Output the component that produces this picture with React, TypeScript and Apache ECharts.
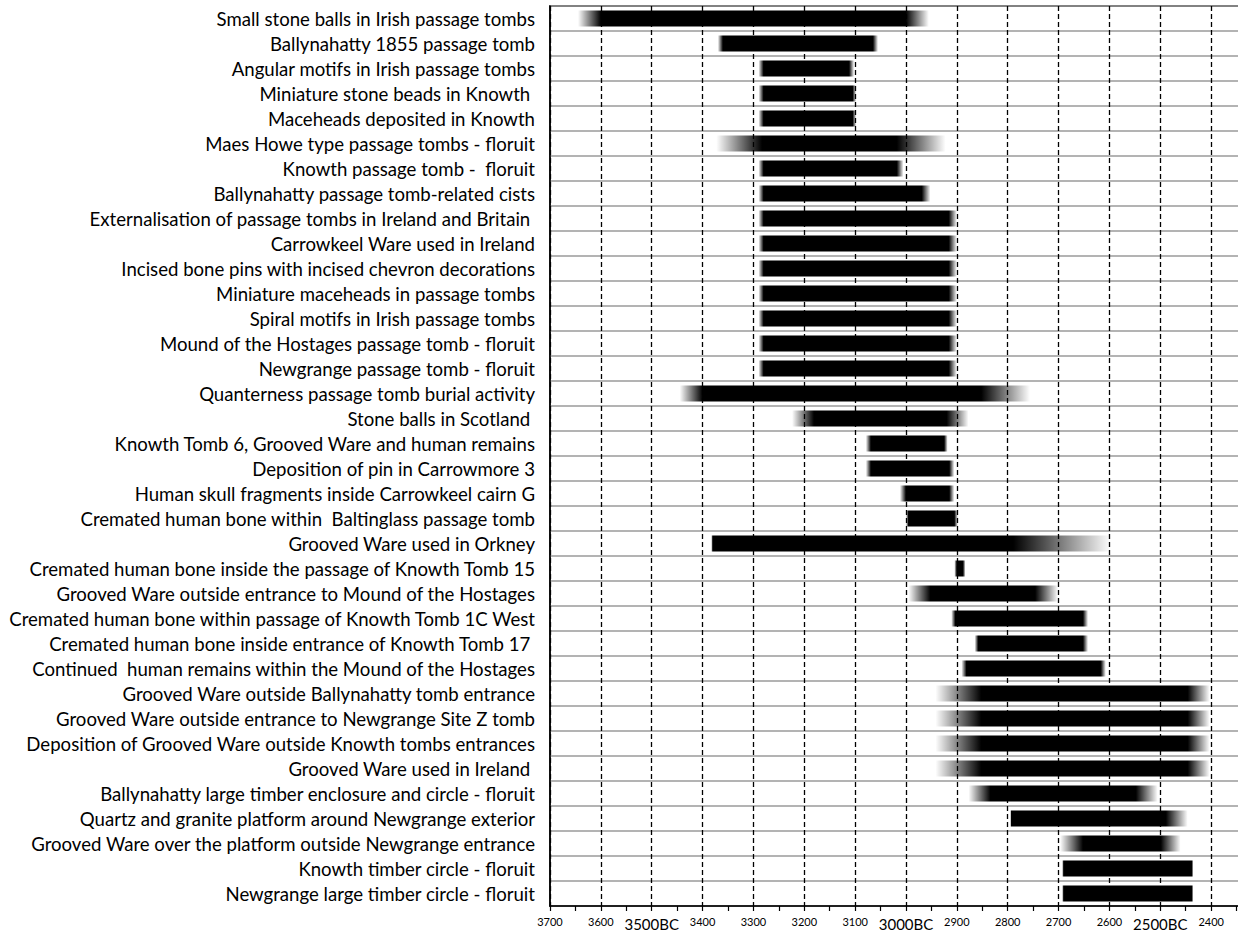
import React, { useEffect, useRef } from "react";
import * as echarts from "echarts";

const categories = [
  "Small stone balls in Irish passage tombs",
  "Ballynahatty 1855 passage tomb",
  "Angular motifs in Irish passage tombs",
  "Miniature stone beads in Knowth ",
  "Maceheads deposited in Knowth",
  "Maes Howe type passage tombs - floruit",
  "Knowth passage tomb -  floruit",
  "Ballynahatty passage tomb-related cists",
  "Externalisation of passage tombs in Ireland and Britain ",
  "Carrowkeel Ware used in Ireland",
  "Incised bone pins with incised chevron decorations",
  "Miniature maceheads in passage tombs",
  "Spiral motifs in Irish passage tombs",
  "Mound of the Hostages passage tomb - floruit",
  "Newgrange passage tomb - floruit",
  "Quanterness passage tomb burial activity",
  "Stone balls in Scotland ",
  "Knowth Tomb 6, Grooved Ware and human remains",
  "Deposition of pin in Carrowmore 3",
  "Human skull fragments inside Carrowkeel cairn G",
  "Cremated human bone within  Baltinglass passage tomb",
  "Grooved Ware used in Orkney",
  "Cremated human bone inside the passage of Knowth Tomb 15",
  "Grooved Ware outside entrance to Mound of the Hostages",
  "Cremated human bone within passage of Knowth Tomb 1C West",
  "Cremated human bone inside entrance of Knowth Tomb 17 ",
  "Continued  human remains within the Mound of the Hostages",
  "Grooved Ware outside Ballynahatty tomb entrance",
  "Grooved Ware outside entrance to Newgrange Site Z tomb",
  "Deposition of Grooved Ware outside Knowth tombs entrances",
  "Grooved Ware used in Ireland ",
  "Ballynahatty large timber enclosure and circle - floruit",
  "Quartz and granite platform around Newgrange exterior",
  "Grooved Ware over the platform outside Newgrange entrance",
  "Knowth timber circle - floruit",
  "Newgrange large timber circle - floruit",
];

// years BC: where the fuzzy start begins, where the solid part starts/ends, where the fuzzy end fades out
const fadeFrom = [3645, 3370, 3290, 3290, 3290, 3373, 3290, 3290, 3290, 3290, 3290, 3290, 3290, 3290, 3290, 3445, 3224, 3079, 3079, 3012, 3000, 3383, 2905, 2995, 2911, 2865, 2891, 2942, 2942, 2942, 2942, 2877, 2795, 2697, 2693, 2693];
const solidFrom = [3600, 3360, 3280, 3280, 3280, 3283, 3280, 3280, 3280, 3280, 3280, 3280, 3280, 3280, 3280, 3400, 3181, 3069, 3069, 3000, 2995, 3380, 2900, 2952, 2903, 2858, 2881, 2852, 2852, 2852, 2852, 2834, 2793, 2652, 2690, 2690];
const solidTo = [3000, 3065, 3112, 3105, 3105, 3018, 3018, 2969, 2916, 2916, 2916, 2916, 2916, 2916, 2916, 2852, 2920, 2925, 2915, 2915, 2905, 2789, 2888, 2746, 2652, 2652, 2617, 2446, 2446, 2446, 2446, 2548, 2489, 2499, 2438, 2438];
const fadeTo = [2955, 3055, 3102, 3098, 3098, 2922, 3005, 2952, 2900, 2900, 2900, 2900, 2900, 2900, 2900, 2756, 2877, 2918, 2905, 2905, 2898, 2597, 2883, 2701, 2642, 2642, 2607, 2403, 2403, 2403, 2403, 2505, 2446, 2460, 2435, 2435];

const bcLabelYears = [3500, 3000, 2500];
const axisMin = 2300;
const axisMax = 3700;
const tickStep = 100;

const FONT = "Lato";
const CHART_W = 1265;
const CHART_H = 937;

export default function App() {
  const ref = useRef<HTMLDivElement>(null);
  useEffect(() => {
    document.documentElement.style.overflow = "hidden";
    const chart = echarts.init(ref.current!, null, { renderer: "svg", width: CHART_W, height: CHART_H });
    const data = categories.map((_, i) => [i, fadeFrom[i], solidFrom[i], solidTo[i], fadeTo[i]]);
    chart.setOption({
      animation: false,
      backgroundColor: "#fff",
      grid: {
        left: 550,
        right: 0,
        top: 6,
        bottom: 31,
        show: true,
        borderColor: "#000",
        borderWidth: 1.5,
      },
      xAxis: {
        type: "value",
        inverse: true,
        min: axisMin,
        max: axisMax,
        interval: tickStep,
        axisLine: { show: true, lineStyle: { color: "#000", width: 1.5 } },
        axisTick: { show: true, length: 5, lineStyle: { color: "#000", width: 1.2 } },
        minorTick: { show: true, splitNumber: 2, length: 5, lineStyle: { color: "#000", width: 1.2 } },
        splitLine: { show: true, lineStyle: { type: [5, 3], color: "#000", width: 1.3 } },
        axisLabel: {
          margin: 10,
          color: "#000",
          fontFamily: FONT,
          fontSize: 11,
          formatter: (v: number) =>
            v === axisMin ? "" : bcLabelYears.includes(v) ? `{big|${v}BC}` : `${v}`,
          rich: { big: { fontSize: 15, fontFamily: FONT, color: "#000" } },
        },
      },
      yAxis: {
        type: "category",
        inverse: true,
        data: categories,
        axisLine: { show: true, lineStyle: { color: "#000", width: 1.5 } },
        axisTick: { show: false },
        splitLine: { show: true, interval: 0, lineStyle: { color: "#9a9a9a", width: 1.5 } },
        axisLabel: { interval: 0, margin: 15, color: "#000", fontFamily: FONT, fontSize: 18.6 },
      },
      series: [
        {
          type: "custom",
          clip: true,
          encode: { x: [1, 2, 3, 4], y: 0 },
          data,
          renderItem: (params: any, api: any) => {
            const row = api.value(0);
            const a = api.coord([api.value(1), row]);
            const b = api.coord([api.value(2), row]);
            const c = api.coord([api.value(3), row]);
            const d = api.coord([api.value(4), row]);
            const h = api.size([0, 1])[1] * 0.64;
            const w = Math.max(d[0] - a[0], 0.1);
            const o1 = Math.min(Math.max((b[0] - a[0]) / w, 0), 1);
            const o2 = Math.min(Math.max((c[0] - a[0]) / w, o1), 1);
            const fill = new echarts.graphic.LinearGradient(0, 0, 1, 0, [
              { offset: 0, color: o1 === 0 ? "#000" : "rgba(0,0,0,0)" },
              { offset: o1, color: "#000" },
              { offset: o2, color: "#000" },
              { offset: 1, color: o2 === 1 ? "#000" : "rgba(0,0,0,0)" },
            ]);
            return {
              type: "rect",
              shape: { x: a[0], y: a[1] - h / 2, width: w, height: h },
              style: { fill },
            };
          },
        },
      ],
    });
    return () => chart.dispose();
  }, []);
  return (
    <div
      ref={ref}
      style={{ position: "fixed", left: 0, top: 0, width: CHART_W, height: CHART_H }}
    />
  );
}
